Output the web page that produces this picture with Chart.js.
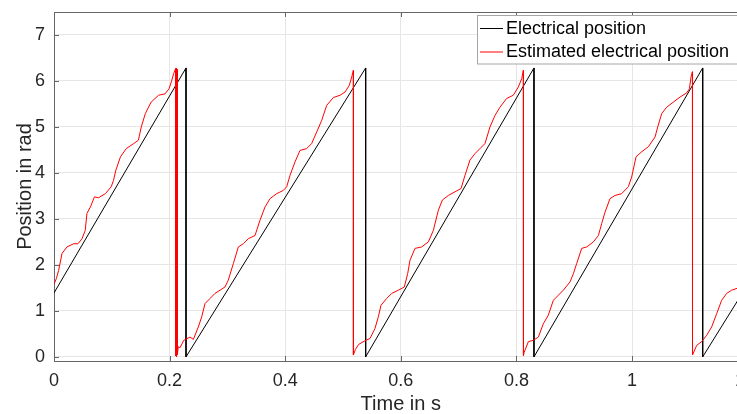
<!DOCTYPE html>
<html>
<head>
<meta charset="utf-8">
<script src="https://cdn.jsdelivr.net/npm/chart.js@4/dist/chart.umd.min.js"></script>
<style>
  html, body { margin: 0; padding: 0; background: #fff; overflow: hidden; width: 737px; height: 414px; }
  #wrap { position: relative; width: 750px; height: 414px; }
</style>
</head>
<body>
<div id="wrap"><canvas id="c" width="750" height="414"></canvas></div>
<script>
// Measured electrical rotor position (rad): sawtooth vertices, wrapping at 2*pi
const timeRef = [0, 0.2284, 0.2284, 0.5392, 0.5392, 0.8304, 0.8304, 1.1223, 1.1223, 1.2];
const posRef  = [1.39, 6.283, 0, 6.283, 0, 6.283, 0, 6.283, 0, 1.57];

// Observer estimate of the electrical position (rad)
const timeEst = [
  0, 0.004, 0.008, 0.0139, 0.0225, 0.034, 0.0415, 0.0485, 0.054, 0.057,
  0.063, 0.070, 0.077, 0.089, 0.099, 0.103, 0.107, 0.115, 0.125, 0.138,
  0.146, 0.151, 0.158, 0.168, 0.181, 0.192, 0.199, 0.203, 0.207, 0.2105,
  0.2105, 0.2118, 0.2120, 0.2133, 0.2135, 0.2150, 0.218, 0.2245, 0.2353, 0.2411,
  0.2497, 0.2555, 0.2613, 0.270, 0.2785, 0.2872, 0.2958, 0.3016, 0.3103, 0.3189,
  0.3276, 0.3362, 0.3478, 0.3564, 0.3651, 0.3737, 0.3853, 0.3968, 0.4026, 0.4084,
  0.417, 0.4256, 0.4372, 0.4458, 0.4545, 0.4631, 0.4718, 0.4834, 0.4949, 0.5036,
  0.5111, 0.5151, 0.518,
  0.518, 0.5215, 0.527, 0.538, 0.5467, 0.5554, 0.5611, 0.5657, 0.5756, 0.5842,
  0.5958, 0.6061, 0.6119, 0.6159, 0.6246, 0.6361, 0.6477, 0.6563, 0.665, 0.6719,
  0.6822, 0.6938, 0.7042, 0.7111, 0.7197, 0.7284, 0.737, 0.7457, 0.7543, 0.763,
  0.7716, 0.7832, 0.7947, 0.8034, 0.8092, 0.8120,
  0.8122, 0.8135, 0.8207, 0.8293, 0.838, 0.8466, 0.8553, 0.8639, 0.8726, 0.8812,
  0.8928, 0.8986, 0.9043, 0.913, 0.9216, 0.9332, 0.9419, 0.9476, 0.9534, 0.9619,
  0.9706, 0.9821, 0.9937, 0.9994, 1.007, 1.0167, 1.0283, 1.0398, 1.0445, 1.0514,
  1.06, 1.0716, 1.0831, 1.0946, 1.0993, 1.1022, 1.1045,
  1.1047, 1.1119, 1.1205, 1.1292, 1.1378, 1.1465, 1.1551, 1.1638, 1.1724, 1.1817, 1.2
];
const posEst = [
  1.58, 1.70, 1.88, 2.25, 2.39, 2.46, 2.46, 2.57, 2.75, 3.12,
  3.26, 3.48, 3.46, 3.55, 3.70, 3.84, 4.06, 4.35, 4.53, 4.64,
  4.71, 5.00, 5.29, 5.54, 5.69, 5.72, 5.83, 5.98, 6.16, 6.27,
  0.02, 6.28, 0.00, 6.25, 0.05, 0.22, 0.20, 0.36, 0.43, 0.38,
  0.65, 0.87, 1.16, 1.27, 1.38, 1.45, 1.52, 1.67, 2.03, 2.39,
  2.46, 2.57, 2.64, 2.97, 3.26, 3.44, 3.55, 3.62, 3.70, 3.95,
  4.24, 4.49, 4.53, 4.64, 4.89, 5.14, 5.47, 5.64, 5.69, 5.76,
  5.91, 6.09, 6.23,
  0.04, 0.16, 0.27, 0.35, 0.40, 0.62, 0.87, 1.12, 1.27, 1.38,
  1.45, 1.52, 1.81, 2.10, 2.36, 2.39, 2.50, 2.75, 3.19, 3.41,
  3.51, 3.59, 3.66, 3.95, 4.28, 4.42, 4.53, 4.64, 5.00, 5.25,
  5.43, 5.62, 5.69, 5.87, 6.05, 6.23,
  0.03, 0.10, 0.33, 0.36, 0.43, 0.72, 0.91, 1.23, 1.34, 1.45,
  1.63, 1.81, 2.03, 2.36, 2.39, 2.50, 2.64, 2.90, 3.15, 3.44,
  3.51, 3.55, 3.70, 3.91, 4.35, 4.46, 4.57, 4.78, 5.00, 5.29,
  5.43, 5.54, 5.65, 5.74, 5.83, 6.09, 6.20,
  0.04, 0.25, 0.33, 0.47, 0.65, 0.94, 1.23, 1.38, 1.45, 1.49, 1.53
];

const xTicks = [0, 0.2, 0.4, 0.6, 0.8, 1, 1.2];
const xTickLabels = ['0', '0.2', '0.4', '0.6', '0.8', '1', '1.2'];
const yTicks = [0, 1, 2, 3, 4, 5, 6, 7];
const seriesNames = ['Electrical position', 'Estimated electrical position'];
const seriesColors = ['#000000', '#ff0000'];

const FONT = '"Liberation Sans", Arial, Helvetica, sans-serif';
const TEXT = '#262626';
const AXIS = '#666666';

// Box outline on top plus inward-pointing tick marks
const framePlugin = {
  id: 'frame',
  afterDatasetsDraw(chart) {
    const { ctx, chartArea: a, scales: { x, y } } = chart;
    ctx.save();
    ctx.strokeStyle = AXIS;
    ctx.lineWidth = 1;
    ctx.beginPath();
    const top = Math.round(a.top) + 0.5;
    ctx.moveTo(a.left, top);
    ctx.lineTo(a.right, top);
    xTicks.forEach(v => {
      const px = Math.round(x.getPixelForValue(v)) + 0.5;
      ctx.moveTo(px, a.bottom);
      ctx.lineTo(px, a.bottom - 5);
      ctx.moveTo(px, a.top);
      ctx.lineTo(px, a.top + 5);
    });
    yTicks.forEach(v => {
      const py = Math.round(y.getPixelForValue(v)) + 0.5;
      ctx.moveTo(a.left, py);
      ctx.lineTo(a.left + 5, py);
    });
    ctx.stroke();
    ctx.restore();
  }
};

// Legend box in the upper right of the axes
const legendPlugin = {
  id: 'boxLegend',
  afterDatasetsDraw(chart) {
    const ctx = chart.ctx;
    const bx = 477.5, by = 15.5, bw = 300, bh = 48.5;
    ctx.save();
    ctx.fillStyle = '#ffffff';
    ctx.fillRect(bx, by, bw, bh);
    ctx.strokeStyle = '#a6a6a6';
    ctx.lineWidth = 1;
    ctx.strokeRect(bx, by, bw, bh);
    ctx.font = '18px ' + FONT;
    ctx.textBaseline = 'middle';
    ctx.textAlign = 'left';
    const rows = [28, 51.5];
    seriesNames.forEach((name, i) => {
      const yy = rows[i];
      ctx.strokeStyle = seriesColors[i];
      ctx.beginPath();
      ctx.moveTo(480, yy + 0.5);
      ctx.lineTo(503, yy + 0.5);
      ctx.stroke();
      ctx.fillStyle = '#000000';
      ctx.fillText(name, 506, yy + 1);
    });
    ctx.restore();
  }
};

const toPoints = (xs, ys) => xs.map((t, i) => ({ x: t, y: ys[i] }));

new Chart(document.getElementById('c'), {
  type: 'line',
  data: {
    datasets: [
      {
        label: seriesNames[0],
        data: toPoints(timeRef, posRef),
        borderColor: seriesColors[0],
        borderWidth: 1,
        pointRadius: 0,
        tension: 0,
        order: 1
      },
      {
        label: seriesNames[1],
        data: toPoints(timeEst, posEst),
        borderColor: seriesColors[1],
        borderWidth: 1,
        pointRadius: 0,
        tension: 0,
        order: 0
      }
    ]
  },
  options: {
    responsive: false,
    animation: false,
    devicePixelRatio: 1,
    layout: { padding: { top: 12, right: 2.4, left: 0, bottom: 0 } },
    plugins: { legend: { display: false }, tooltip: { enabled: false } },
    scales: {
      x: {
        type: 'linear',
        min: 0,
        max: 1.2,
        afterBuildTicks: s => { s.ticks = xTicks.map(v => ({ value: v })); },
        afterFit: s => { s.height = 53; s.paddingLeft = 0; s.paddingRight = 0; },
        ticks: {
          autoSkip: false,
          maxRotation: 0,
          padding: 9,
          color: TEXT,
          font: { family: FONT, size: 18 },
          callback: v => xTickLabels[xTicks.indexOf(v)]
        },
        grid: { color: '#e6e6e6', drawTicks: false },
        border: { color: AXIS, width: 1 },
        title: {
          display: true,
          text: 'Time in s',
          color: TEXT,
          font: { family: FONT, size: 20 },
          padding: { top: 0, bottom: -2 }
        }
      },
      y: {
        type: 'linear',
        min: -0.09,
        max: 7.5,
        afterBuildTicks: s => { s.ticks = yTicks.map(v => ({ value: v })); },
        afterFit: s => { s.width = 54; s.paddingTop = 0; s.paddingBottom = 0; },
        ticks: {
          padding: 9,
          color: TEXT,
          font: { family: FONT, size: 18 },
          callback: v => String(v)
        },
        grid: { color: '#e6e6e6', drawTicks: false },
        border: { color: AXIS, width: 1 },
        title: {
          display: true,
          text: 'Position in rad',
          color: TEXT,
          font: { family: FONT, size: 20 },
          padding: { top: 13, bottom: 0 }
        }
      }
    }
  },
  plugins: [framePlugin, legendPlugin]
});
</script>
</body>
</html>
